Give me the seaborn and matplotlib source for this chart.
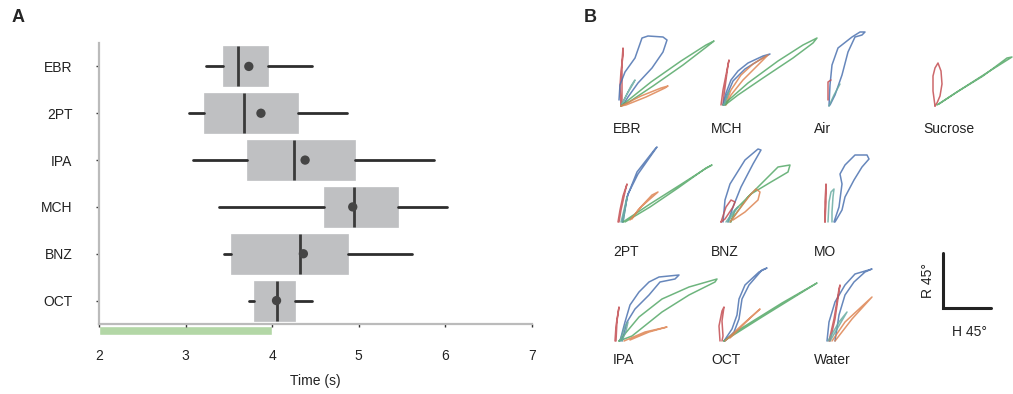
import matplotlib
matplotlib.use("Agg")
import matplotlib.pyplot as plt
import seaborn as sns

sns.set_theme(style="white")
plt.rcParams["font.family"] = ["Liberation Sans", "DejaVu Sans"]

# panel A: response time summary per odor (s)
odors = ["EBR", "2PT", "IPA", "MCH", "BNZ", "OCT"]
whis_lo = [3.24, 3.04, 3.09, 3.39, 3.44, 3.73]
q1 = [3.43, 3.21, 3.71, 4.60, 3.52, 3.79]
medians = [3.60, 3.67, 4.25, 4.95, 4.32, 4.05]
means = [3.73, 3.87, 4.38, 4.93, 4.36, 4.05]
q3 = [3.95, 4.30, 4.96, 5.45, 4.88, 4.26]
whis_hi = [4.46, 4.86, 5.87, 6.02, 5.62, 4.46]
stim_start, stim_end = 2, 4
time_ticks = [2, 3, 4, 5, 6, 7]

# panel B: head (H) / rostrum (R) trajectories, offsets from start point
cells = ["EBR", "MCH", "Air", "Sucrose", "2PT", "BNZ", "MO", "IPA", "OCT", "Water"]
cell_x = [621, 723, 829, 935, 620, 723, 827, 617, 722, 827]
cell_y = [106, 105, 106, 106, 222, 222, 222, 341, 341, 341]

ebr = {
    "red": ([0, -1, 0, 2, 2, 1, 1, 1, 0], [0, 20, 35, 50, 58, 45, 25, 5, 0]),
    "blue": ([-2, -1, 4, 14, 21, 27, 42, 46, 42, 31, 17, 7, 2, 0],
             [6, 21, 34, 48, 68, 70, 69, 66, 54, 38, 23, 9, 1, 0]),
    "teal": ([0, 6, 12, 14, 10, 4, 0], [0, 12, 22, 26, 20, 8, 0]),
    "green": ([0, 30, 60, 85, 93, 88, 62, 32, 8, 0], [0, 24, 45, 61, 65, 61, 41, 20, 4, 0]),
    "orange": ([0, 20, 40, 47, 44, 25, 5, 0], [0, 10, 18, 20, 18, 9, 1, 0]),
}
mch = {
    "red": ([-2, 0, 3, 6, 5, 3, 1, 0], [0, 15, 30, 45, 40, 25, 10, 0]),
    "blue": ([0, 3, 8, 15, 25, 40, 47, 38, 22, 10, 4, 1], [0, 12, 25, 34, 42, 49, 51, 46, 36, 24, 10, 0]),
    "orange": ([2, 8, 18, 30, 45, 35, 20, 8, 3], [0, 15, 30, 41, 50, 40, 25, 10, 0]),
    "green": ([0, 25, 55, 80, 94, 90, 70, 40, 15, 2], [0, 22, 44, 60, 67, 62, 47, 27, 10, 0]),
    "teal": ([1, 4, 6, 3, 1], [0, 8, 14, 6, 0]),
}
air = {
    "blue": ([0, 1, 3, 9, 23, 31, 36, 33, 26, 19, 13, 6, 1], [0, 21, 41, 58, 69, 74, 74, 71, 69, 54, 31, 11, 1]),
    "red": ([-1, -1, -1, 2], [6, 14, 24, 26]),
    "teal": ([0, 5, 11], [0, 11, 22]),
}
sucrose = {
    "red": ([0, -2, -2, 0, 3, 6, 7, 5, 2, 0], [0, 15, 30, 38, 43, 35, 22, 10, 3, 0]),
    "green": ([2, 25, 50, 77, 72, 48, 22, 4], [1, 16, 32, 49, 48, 30, 14, 2]),
}
pt2 = {
    "red": ([-2, 0, 3, 7, 5, 1, -1], [0, 12, 26, 38, 30, 12, 0]),
    "blue": ([2, 5, 8, 18, 37, 35, 17, 7, 3], [0, 14, 28, 48, 75, 73, 50, 25, 0]),
    "teal": ([1, 4, 7, 6, 3], [0, 12, 25, 18, 0]),
    "green": ([3, 30, 60, 85, 92, 86, 58, 30, 5], [0, 18, 37, 53, 57, 54, 34, 15, 0]),
    "orange": ([10, 22, 38, 32, 18, 12], [2, 16, 30, 27, 12, 3]),
}
bnz = {
    "blue": ([0, 2, 7, 22, 35, 38, 30, 18, 10, 5], [0, 22, 38, 62, 73, 72, 58, 35, 15, 0]),
    "red": ([-2, 3, 8, 12, 10, 2, -2], [0, 15, 22, 20, 15, 3, 0]),
    "green": ([7, 25, 45, 55, 67, 65, 48, 28, 12, 8], [0, 25, 45, 55, 57, 50, 40, 28, 12, 0]),
    "orange": ([7, 18, 28, 33, 37, 35, 22, 10], [0, 15, 28, 33, 30, 22, 10, 2]),
    "teal": ([3, 10, 15, 10, 5], [0, 10, 15, 8, 0]),
}
mo = {
    "red": ([-2, -2, -1, -1, -2], [0, 20, 38, 20, 0]),
    "teal": ([1, 2, 4, 7, 6, 5, 5], [0, 20, 30, 33, 25, 10, 0]),
    "blue": ([7, 12, 15, 13, 18, 28, 40, 42, 35, 27, 18, 15, 8], [0, 15, 38, 48, 57, 67, 67, 63, 55, 42, 25, 12, 0]),
}
ipa = {
    "red": ([-2, -1, 1, 2, 0, -1], [0, 15, 28, 34, 20, 0]),
    "blue": ([3, 8, 13, 22, 32, 42, 62, 58, 43, 32, 18, 10, 5], [0, 19, 36, 49, 59, 64, 66, 62, 59, 46, 32, 19, 0]),
    "green": ([2, 22, 45, 72, 100, 98, 72, 45, 15, 2], [0, 24, 42, 54, 62, 59, 46, 29, 5, 0]),
    "orange": ([7, 28, 50, 32, 13], [0, 9, 14, 9, 1]),
    "teal": ([3, 8, 11, 9, 5], [0, 15, 19, 10, 0]),
}
oct_ = {
    "red": ([-2, -3, 0, 2, 0, 1, 0], [0, 15, 30, 34, 20, 5, 0]),
    "blue": ([2, 10, 15, 17, 23, 37, 45, 40, 27, 20, 17, 12, 3], [0, 12, 26, 42, 56, 69, 73, 71, 56, 42, 22, 9, 0]),
    "green": ([2, 40, 95, 60, 15, 2], [0, 24, 58, 38, 10, 0]),
    "orange": ([3, 20, 38, 25, 8], [0, 16, 32, 20, 3]),
}
water = {
    "blue": ([0, 2, 8, 18, 28, 45, 38, 27, 18, 12, 8], [0, 19, 39, 56, 67, 72, 69, 59, 46, 26, 0]),
    "red": ([3, 8, 13, 12, 7, 2], [0, 22, 56, 52, 22, 0]),
    "orange": ([5, 18, 45, 25, 8], [0, 19, 44, 22, 0]),
    "teal": ([1, 12, 20, 13, 3], [0, 19, 29, 17, 0]),
}
traces = [ebr, mch, air, sucrose, pt2, bnz, mo, ipa, oct_, water]

colors = {"blue": "#4c72b0", "green": "#55a868", "orange": "#dd8452",
          "red": "#c44e52", "teal": "#6aaca2"}

fig = plt.figure(figsize=(10.13, 3.94), dpi=100)

# ---- panel A ----
ax = fig.add_axes([99 / 1013, 1 - 324 / 394, 433 / 1013, 281 / 394])
stats = []
for i in range(len(odors)):
    stats.append({"whislo": whis_lo[i], "q1": q1[i], "med": medians[i],
                  "q3": q3[i], "whishi": whis_hi[i], "fliers": []})
pos = list(range(len(odors)))
kw = dict(positions=pos, widths=0.855, patch_artist=True, showcaps=False,
          boxprops=dict(facecolor="#bfc0c2", edgecolor="#bfc0c2", linewidth=0.5),
          medianprops=dict(color="#3a3a3a", linewidth=2),
          whiskerprops=dict(color="#2e2e2e", linewidth=2))
try:
    ax.bxp(stats, orientation="horizontal", **kw)
except TypeError:
    ax.bxp(stats, vert=False, **kw)
sns.scatterplot(x=means, y=pos, ax=ax, s=45, color="#454545", edgecolor="none", zorder=5)

bar = ax.barh([5.64], [stim_end - stim_start], left=stim_start, height=0.21,
              color="#b3d7a6", zorder=0)
for p in bar.patches:
    p.set_clip_on(False)

ax.set_xlim(2, 7)
ax.set_ylim(5.5, -0.5)
ax.set_xticks(time_ticks)
ax.set_yticks(pos)
ax.set_yticklabels(odors)
ax.set_xlabel("Time (s)", fontsize=10, color="#222222", labelpad=8)
ax.set_ylabel("")
ax.tick_params(axis="both", bottom=True, left=True, length=2, width=1,
               color="#333333", labelsize=10, labelcolor="#222222")
ax.tick_params(axis="y", pad=17)
ax.tick_params(axis="x", pad=16)
for s in ["top", "right"]:
    ax.spines[s].set_visible(False)
for s in ["left", "bottom"]:
    ax.spines[s].set_color("#bbbbbb")
    ax.spines[s].set_linewidth(1.6)

fig.text(18 / 1013, 1 - 18 / 394, "A", fontsize=13, fontweight="bold", va="center", ha="center")
fig.text(590 / 1013, 1 - 18 / 394, "B", fontsize=13, fontweight="bold", va="center", ha="center")

# ---- panel B ----
axb = fig.add_axes([590 / 1013, 0, 423 / 1013, 1])
axb.set_xlim(590, 1013)
axb.set_ylim(394, 0)
axb.axis("off")

for name, ox, oy, tr in zip(cells, cell_x, cell_y, traces):
    for c, (dx, dy) in tr.items():
        xs = [ox + v for v in dx]
        ys = [oy - v for v in dy]
        sns.lineplot(x=xs, y=ys, ax=axb, sort=False, estimator=None,
                     color=colors[c], linewidth=1.1, alpha=0.85)

label_x = [613, 711, 814, 923, 613, 711, 814, 613, 711, 814]
label_y = [129, 129, 129, 129, 252, 252, 252, 360, 360, 360]
for name, lx, ly in zip(cells, label_x, label_y):
    axb.text(lx, ly, name, fontsize=10, color="#222222", ha="left", va="center")

# scale bar 45 deg
bar_x0, bar_y0 = 943, 308
bar_h, bar_r = 48, 55
axb.plot([bar_x0, bar_x0, bar_x0 + bar_h], [bar_y0 - bar_r, bar_y0, bar_y0],
         color="#222222", linewidth=2.2, solid_joinstyle="miter")
axb.text(928, 281, "R 45°", fontsize=10, rotation=90, ha="center", va="center", color="#222222")
axb.text(969, 332, "H 45°", fontsize=10, ha="center", va="center", color="#222222")

fig.savefig("out.png", dpi=100)
